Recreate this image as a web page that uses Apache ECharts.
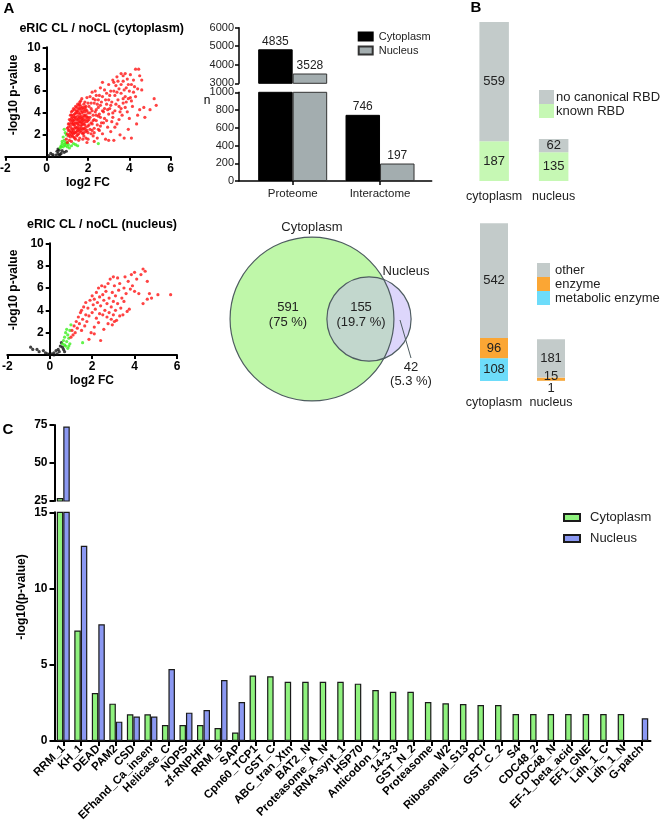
<!DOCTYPE html>
<html><head><meta charset="utf-8">
<script src="https://cdn.jsdelivr.net/npm/echarts@6/dist/echarts.min.js"></script>
<style>html,body{margin:0;padding:0;background:#fff}#c{width:662px;height:824px}</style>
</head><body><div id="c"></div>
<script>
// ---------------- DATA ----------------
// Panel A volcano plots: [log2 FC, -log10 p-value]
const cytoRed = [[0.95,1.6],[1.0,2.1],[1.0,2.6],[1.05,1.9],[1.05,3.0],[1.1,2.4],[1.1,3.4],[1.1,1.5],[1.15,2.8],[1.15,3.8],[1.2,2.0],[1.2,3.1],[1.2,4.1],[1.25,2.5],[1.25,3.6],[1.3,1.8],[1.3,2.9],[1.3,4.4],[1.3,3.3],[1.35,2.2],[1.35,3.9],[1.4,2.7],[1.4,4.6],[1.4,1.6],[1.45,3.4],[1.45,4.2],[1.5,2.0],[1.5,3.0],[1.5,4.8],[1.5,3.7],[1.55,2.5],[1.55,4.4],[1.6,1.7],[1.6,3.2],[1.6,5.0],[1.6,3.9],[1.65,2.8],[1.65,4.6],[1.7,2.2],[1.7,3.5],[1.7,5.3],[1.75,4.1],[1.75,3.0],[1.8,1.9],[1.8,4.8],[1.8,2.6],[1.85,3.7],[1.85,5.0],[1.9,2.3],[1.9,4.3],[1.95,3.2],[1.95,5.4],[2.0,1.6],[2.0,2.8],[2.0,4.0],[2.0,4.9],
[1.1,2.0],[1.2,2.6],[1.25,3.0],[1.3,2.4],[1.35,3.4],[1.4,3.1],[1.4,2.2],[1.45,2.6],[1.5,2.4],[1.5,4.2],[1.55,3.5],[1.6,2.3],[1.6,4.4],[1.65,3.7],[1.7,2.9],[1.7,4.0],[1.75,2.5],[1.8,3.4],[1.85,2.9],[1.9,3.8],[1.2,3.5],[1.3,3.8],[1.45,4.0],[1.55,2.9],[1.65,3.1],[1.05,2.4],[1.15,1.8],[1.35,1.7],[1.25,4.2],[1.6,4.8],
[1.0,1.3],[1.15,2.2],[1.2,1.4],[1.25,1.9],[1.35,2.6],[1.45,1.9],[1.55,1.5],[1.75,1.6],[1.45,4.5],[1.75,3.6],[1.85,4.5],[1.9,1.7],[1.35,4.3],[1.55,4.0],[1.65,4.2],
[1.05,2.7],[1.1,3.0],[1.15,3.3],[1.2,2.3],[1.2,3.8],[1.25,2.2],[1.25,3.3],[1.3,2.1],[1.3,3.1],[1.35,2.9],[1.35,3.6],[1.4,3.6],[1.4,4.0],[1.45,2.3],[1.45,3.1],[1.5,2.7],[1.5,3.4],[1.55,2.1],[1.55,3.2],[1.55,4.7],[1.6,2.6],[1.6,3.6],[1.65,2.4],[1.65,3.4],[1.65,5.1],[1.7,2.6],[1.7,3.2],[1.7,4.4],[1.75,2.1],[1.75,3.3],[1.75,4.5],[1.8,2.2],[1.8,3.0],[1.8,3.8],[1.8,4.3],[1.85,2.5],[1.85,3.2],[1.85,4.1],[1.9,2.7],[1.9,3.4],[1.9,4.6],[1.95,2.4],[1.95,3.6],[1.95,4.2],[2.0,2.2],[2.0,3.3],[2.0,3.6],
[2.05,2.9],[2.05,4.6],[2.1,3.6],[2.15,3.1],[2.15,4.9],[2.2,2.4],[2.2,4.2],[2.25,3.3],[2.25,5.3],[2.3,2.2],[2.35,4.1],[2.4,3.8],[2.45,4.8],[2.5,2.5],[2.55,5.6],[2.6,3.6],[2.7,4.2],[2.75,3.1],[2.85,5.2],[2.95,4.3],
[2.05,3.4],[2.1,5.5],[2.1,2.5],[2.15,4.4],[2.2,3.0],[2.2,5.9],[2.25,1.9],[2.25,3.8],[2.3,4.9],[2.3,2.6],[2.35,6.0],[2.4,3.3],[2.4,4.3],[2.45,1.7],[2.5,5.2],[2.5,3.7],[2.55,2.4],[2.6,4.7],[2.6,6.3],[2.65,3.1],[2.7,5.5],[2.7,2.1],[2.75,4.1],[2.8,6.1],[2.8,3.5],[2.85,1.6],[2.9,4.8],[2.9,5.8],[2.95,2.7],[3.0,6.6],[3.0,3.9],[3.0,5.2],[2.1,4.0],[2.3,3.4],[2.5,4.5],[2.6,2.8],[2.8,4.4],[2.4,5.6],[2.7,6.8],[2.15,2.1],[2.35,5.2],[2.55,3.9],[2.65,5.0],[2.9,3.3],[2.45,2.9],
[3.05,4.4],[3.1,2.3],[3.1,6.0],[3.15,5.0],[3.2,7.0],[3.2,3.6],[3.25,1.5],[3.3,5.6],[3.3,4.2],[3.35,6.5],[3.4,3.0],[3.4,7.3],[3.45,5.2],[3.5,4.6],[3.5,6.2],[3.55,2.0],[3.6,7.6],[3.6,5.8],[3.65,3.8],[3.7,6.9],[3.7,4.9],[3.75,1.7],[3.8,7.6],[3.8,5.5],[3.85,6.3],[3.9,4.1],[3.9,7.1],[3.95,2.5],[4.0,6.0],[3.3,2.7],[3.5,3.4],[3.7,5.3],[3.4,5.9],[3.6,6.6],[3.8,4.5],[3.95,5.3],[3.25,6.8],[3.15,3.2],[3.55,4.1],[3.75,6.1],
[3.05,5.6],[3.1,4.7],[3.2,4.0],[3.25,6.0],[3.35,4.8],[3.45,6.9],[3.6,4.4],[3.7,7.4],[3.85,5.0],[3.95,6.6],
[4.05,5.4],[4.1,1.7],[4.1,6.6],[4.15,4.6],[4.2,7.0],[4.3,8.0],[4.3,5.5],[4.35,3.0],[4.4,6.2],[4.45,8.0],[4.5,7.4],[4.5,4.3],[4.6,6.1],[4.7,4.5],[4.75,3.6],[5.0,4.3],[5.2,5.3],[5.3,4.7],[4.0,3.5],[4.2,5.9],[4.05,7.5],[4.4,3.8],[4.1,5.1],[4.25,6.4],[4.6,7.0],[1.95,1.3],[2.3,1.4],[3.0,1.5]];
const cytoGreen = [[0.85,2.5],[0.9,2.2],[0.8,1.8],[0.85,1.5],[0.75,1.2],[0.7,1.0],[0.65,0.8],[0.8,0.9],[0.9,1.0],[0.95,1.2],[1.0,0.9],[1.05,1.1],[1.1,0.8],[1.2,1.0],[1.3,1.2],[1.4,1.1],[0.75,1.4],[0.9,1.3],[1.0,1.3],[0.7,0.9],[2.5,1.2],[1.5,1.0],[0.95,2.0],[0.85,1.1]];
const cytoBlack = [[0.1,0.1],[0.2,0.3],[0.3,0.2],[0.5,0.5],[0.55,0.3],[0.6,0.6],[0.65,0.2],[0.55,0.7],[0.85,0.4],[0.6,0.1],[0.3,0.05],[0.7,0.3],[0.45,0.15],[0.95,0.5],[0.75,0.55]];
const nucRed = [[1.0,1.6],[1.05,2.2],[1.1,1.8],[1.15,2.6],[1.2,2.0],[1.25,3.0],[1.3,2.4],[1.35,3.4],[1.4,2.8],[1.45,3.8],[1.5,2.2],[1.5,4.0],[1.55,3.2],[1.6,4.3],[1.65,2.6],[1.7,3.6],[1.7,4.7],[1.75,3.0],[1.8,4.2],[1.85,3.5],[1.85,1.4],[1.9,4.9],[1.95,2.0],[2.0,5.3],[2.0,3.8],[2.05,4.5],[2.1,2.5],[2.1,5.0],[2.15,4.1],[2.2,5.6],[2.2,3.3],[2.25,4.7],[2.3,6.0],[2.3,2.9],[2.35,5.2],[2.4,4.4],[2.4,1.3],[2.45,6.2],[2.5,3.6],[2.5,5.4],[2.55,4.9],[2.6,6.1],[2.6,4.0],[2.65,5.7],[2.7,3.4],[2.7,4.6],[2.75,6.4],[2.8,5.1],[2.8,3.8],[2.85,6.8],[2.9,4.3],[2.9,3.2],[2.95,5.6],[3.0,7.0],[3.0,4.8],[3.0,3.6],[3.05,6.2],[3.1,4.0],[3.1,5.3],[3.15,3.1],[3.2,6.9],[3.2,4.6],[3.25,5.8],[3.3,3.5],[3.3,6.4],[3.35,4.2],[3.4,5.1],[3.45,3.6],[3.5,6.0],[3.5,4.8],[3.55,7.0],[3.6,5.5],[3.65,3.9],[3.7,6.6],[3.75,4.1],[3.8,5.9],[3.85,7.2],[3.9,6.2],[4.0,7.4],[4.0,5.7],[4.1,6.8],[4.2,5.5],[4.3,7.2],[4.4,7.7],[4.4,4.6],[4.5,7.5],[4.6,5.0],[4.6,6.6],[4.7,5.5],[4.8,5.1],[5.1,5.4],[5.7,5.4],[2.1,1.9],[2.35,3.7],[2.75,2.8],[3.05,3.0],[2.55,2.3],[2.95,2.7]];
const nucGreen = [[0.6,1.0],[0.65,1.3],[0.7,1.6],[0.7,0.9],[0.75,2.0],[0.8,1.2],[0.8,2.3],[0.85,1.8],[0.9,0.8],[0.9,1.5],[0.95,2.2],[0.95,1.0],[1.0,2.7],[0.85,0.6],[1.55,1.1],[0.75,0.8]];
const nucBlack = [[-0.9,0.7],[-0.8,0.5],[-0.6,0.5],[-0.5,0.3],[-0.3,0.4],[-0.2,0.2],[0.0,0.05],[0.1,0.1],[0.2,0.2],[0.3,0.4],[0.4,0.5],[0.5,0.8],[0.55,1.1],[0.6,0.7],[0.45,0.3],[0.65,0.5],[0.7,0.3],[0.35,0.1],[0.2,0.0],[-0.1,0.1]];

// Panel A counts
const countCategories = ['Proteome', 'Interactome'];
const countCytoplasm = [4835, 746];
const countNucleus = [3528, 197];

// Panel A Venn
const vennCytoOnly = 591;
const vennShared = 155;
const vennNucOnly = 42;

// Panel B
const rbdCategories = ['cytoplasm', 'nucleus'];
const knownRBD = [187, 135];
const noCanonicalRBD = [559, 62];
const enzCategories = ['cytoplasm', 'nucleus'];
const metabolicEnzyme = [108, 1];
const enzymeCounts = [96, 15];
const otherCounts = [542, 181];

// Panel C
const domainNames = ['RRM_1','KH_1','DEAD','PAM2','CSD','EFhand_Ca_insen','Helicase_C','NOPS','zf-RNPHF','RRM_5','SAP','Cpn60_TCP1','GST_C','ABC_tran_Xtn','BAT2_N','Proteasome_A_N','tRNA-synt_1','HSP70','Anticodon_1','14-3-3','GST_N_2','Proteasome','W2','Ribosomal_S13','PCI','GST_C_2','S4','CDC48_2','CDC48_N','EF-1_beta_acid','EF1_GNE','Ldh_1_C','Ldh_1_N','G-patch'];
const domainCytoplasm = [27,7.25,3.15,2.45,1.75,1.75,1.05,1.05,1.05,0.85,0.55,4.3,4.25,3.88,3.88,3.88,3.88,3.76,3.34,3.23,3.23,2.56,2.47,2.43,2.36,2.36,1.77,1.77,1.77,1.77,1.77,1.77,1.77,null];
const domainNucleus = [74,12.8,7.65,1.27,1.6,1.6,4.72,1.86,2.03,4.0,2.56,null,null,null,null,null,null,null,null,null,null,null,null,null,null,null,null,null,null,null,null,null,null,1.49];

// ---------------- STYLE / LAYOUT ----------------
const F = "'Liberation Sans', Arial, sans-serif";
const BLK = '#000';
const TXT = '#222';
const plain = v => String(v);

function volX(gi){
  return {gridIndex:gi, type:'value', min:-2, max:6, interval:2,
    axisLine:{show:true, onZero:true, lineStyle:{color:BLK, width:2}},
    axisTick:{show:true, length:4, lineStyle:{color:BLK, width:2}},
    axisLabel:{fontFamily:F, fontWeight:'bold', fontSize:12, color:BLK, margin:6, formatter:plain},
    splitLine:{show:false}};
}
function volY(gi, shift){
  return {gridIndex:gi, type:'value', min:0, max:10, interval:2, offset:-shift,
    axisLine:{show:true, onZero:false, lineStyle:{color:BLK, width:2}},
    axisTick:{show:true, length:4, lineStyle:{color:BLK, width:2}},
    axisLabel:{fontFamily:F, fontWeight:'bold', fontSize:12, color:BLK, margin:6,
      formatter: v => (v === 0 ? '' : String(v)), showMaxLabel:true},
    splitLine:{show:false}};
}
const grids = [
  {left:5.3, top:47.3, width:165.4, height:109.4},
  {left:7.3, top:243.3, width:169.7, height:111.7},
  {left:249, top:27.7, width:174.7, height:55.6},
  {left:249, top:92.3, width:174.7, height:88.7},
  {left:464.4, top:10.5, width:119, height:170.5},
  {left:465.5, top:211.9, width:114, height:169.1},
  {left:54.5, top:425, width:596, height:76},
  {left:54.5, top:512.3, width:596, height:228.7},
  {left:239.3, top:180, width:192.4, height:1}
].map(g => Object.assign({outerBoundsMode:'none', containLabel:false}, g));

const smallAxisLabel = {fontFamily:F, fontSize:11, color:TXT, margin:5, formatter:plain};
const boldAxisLabel = {fontFamily:F, fontSize:12, fontWeight:'bold', color:BLK, margin:7, formatter:plain};

const xAxis = [
  volX(0), volX(1),
  {gridIndex:2, type:'category', data:countCategories, show:false},
  {gridIndex:3, type:'category', data:countCategories, axisLine:{show:false},
    axisTick:{show:true, alignWithLabel:true, length:4, lineStyle:{color:BLK, width:1.5}},
    axisLabel:{fontFamily:F, fontSize:11.5, color:TXT, margin:7, interval:0}},
  {gridIndex:4, type:'category', data:rbdCategories, axisLine:{show:false}, axisTick:{show:false},
    axisLabel:{fontFamily:F, fontSize:12.5, color:TXT, margin:9, interval:0, hideOverlap:false}},
  {gridIndex:5, type:'category', data:enzCategories, axisLine:{show:false}, axisTick:{show:false},
    axisLabel:{fontFamily:F, fontSize:12.5, color:TXT, margin:15, interval:0, hideOverlap:false}},
  {gridIndex:6, type:'category', data:domainNames, show:false},
  {gridIndex:7, type:'category', data:domainNames,
    axisLine:{show:true, lineStyle:{color:BLK, width:2}},
    axisTick:{show:true, alignWithLabel:true, length:5, lineStyle:{color:BLK, width:2}},
    axisLabel:{fontFamily:F, fontSize:11.5, fontWeight:'bold', color:BLK, rotate:45, interval:0, margin:6}},
  {gridIndex:8, type:'value', min:0, max:1, axisLine:{show:true, onZero:false, lineStyle:{color:BLK, width:1.5}},
    axisTick:{show:false}, axisLabel:{show:false}, splitLine:{show:false}}
];
// y axes of the volcano plots sit at log2 FC = 0 (2 of the 8 x-units from the left edge)
const yAxis = [
  volY(0, grids[0].width*2/8), volY(1, grids[1].width*2/8),
  {gridIndex:2, type:'value', min:3000, max:6000, interval:1000, offset:10,
    axisLine:{show:true, lineStyle:{color:BLK, width:1.5}}, axisTick:{show:true, length:4, lineStyle:{color:BLK, width:1.5}},
    axisLabel:smallAxisLabel, splitLine:{show:false}},
  {gridIndex:3, type:'value', min:0, max:1000, interval:200, offset:10,
    axisLine:{show:true, lineStyle:{color:BLK, width:1.5}}, axisTick:{show:true, length:4, lineStyle:{color:BLK, width:1.5}},
    axisLabel:smallAxisLabel, splitLine:{show:false}},
  {gridIndex:4, type:'value', min:0, max:800, show:false, splitLine:{show:false}},
  {gridIndex:5, type:'value', min:0, max:800, show:false, splitLine:{show:false}},
  {gridIndex:6, type:'value', min:25, max:75, interval:25,
    axisLine:{show:true, lineStyle:{color:BLK, width:2}}, axisTick:{show:true, length:5, lineStyle:{color:BLK, width:2}},
    axisLabel:boldAxisLabel, splitLine:{show:false}},
  {gridIndex:7, type:'value', min:0, max:15, interval:5,
    axisLine:{show:true, lineStyle:{color:BLK, width:2}}, axisTick:{show:true, length:5, lineStyle:{color:BLK, width:2}},
    axisLabel:boldAxisLabel, splitLine:{show:false}},
  {gridIndex:8, type:'value', show:false, splitLine:{show:false}}
];

const series = [];
[[0, cytoBlack, '#111111'], [0, cytoGreen, '#3cf01e'], [0, cytoRed, '#ff1414'],
 [1, nucBlack, '#111111'], [1, nucGreen, '#3cf01e'], [1, nucRed, '#ff1414']].forEach(([gi, d, col]) => {
  series.push({type:'scatter', xAxisIndex:gi, yAxisIndex:gi, data:d, symbol:'circle', symbolSize:3.2,
    itemStyle:{color:col}, silent:true});
});

// Top counts bar chart (broken axis)
const cntLabel = {show:true, position:'top', distance:2, fontFamily:F, fontSize:12, color:TXT};
const cytoBarStyle = {color:'#000', borderColor:'#000', borderWidth:1};
const nucBarStyle = {color:'#a3adaf', borderColor:'#333', borderWidth:1};
series.push({name:'A_Cytoplasm', type:'bar', xAxisIndex:2, yAxisIndex:2, barWidth:34.5, barGap:'0%',
  data:countCytoplasm.map(v => v > 3000 ? v : '-'), itemStyle:cytoBarStyle, label:cntLabel});
series.push({name:'A_Nucleus', type:'bar', xAxisIndex:2, yAxisIndex:2, barWidth:34.5, barGap:'0%',
  data:countNucleus.map(v => v > 3000 ? v : '-'), itemStyle:nucBarStyle, label:cntLabel});
const lowLabel = Object.assign({}, cntLabel, {formatter: p => (p.value > 1000 ? '' : String(p.value))});
series.push({name:'A_Cytoplasm', type:'bar', xAxisIndex:3, yAxisIndex:3, barWidth:34.5, barGap:'0%',
  data:countCytoplasm, itemStyle:cytoBarStyle, label:lowLabel});
series.push({name:'A_Nucleus', type:'bar', xAxisIndex:3, yAxisIndex:3, barWidth:34.5, barGap:'0%',
  data:countNucleus, itemStyle:nucBarStyle, label:lowLabel});

// Panel B stacked bars
const inLabel = {show:true, position:'inside', fontFamily:F, fontSize:13, color:TXT};
series.push({name:'known RBD', type:'bar', xAxisIndex:4, yAxisIndex:4, stack:'rbd', barWidth:29.5,
  data:knownRBD, itemStyle:{color:'#c6f8b4'}, label:inLabel});
series.push({name:'no canonical RBD', type:'bar', xAxisIndex:4, yAxisIndex:4, stack:'rbd', barWidth:29.5,
  data:noCanonicalRBD, itemStyle:{color:'#c3cbca'}, label:inLabel});
series.push({name:'metabolic enzyme', type:'bar', xAxisIndex:5, yAxisIndex:5, stack:'enz', barWidth:28,
  data:metabolicEnzyme.map(v => v < 5 ? {value:v, label:{position:'bottom', distance:1}} : v),
  itemStyle:{color:'#6ddcfa'}, label:inLabel});
series.push({name:'enzyme', type:'bar', xAxisIndex:5, yAxisIndex:5, stack:'enz', barWidth:28,
  data:enzymeCounts.map(v => v < 30 ? {value:v, label:{offset:[0,-3]}} : v),
  itemStyle:{color:'#fba634'}, label:inLabel});
series.push({name:'other', type:'bar', xAxisIndex:5, yAxisIndex:5, stack:'enz', barWidth:28,
  data:otherCounts, itemStyle:{color:'#c3cbca'}, label:inLabel});

// Panel C (broken axis)
const cGreen = {color:'#8ff27e', borderColor:'#1a1a1a', borderWidth:1.2};
const cBlue = {color:'#8b98f2', borderColor:'#1a1a1a', borderWidth:1.2};
const nz = v => (v == null ? '-' : v);
series.push({name:'C_Cytoplasm', type:'bar', xAxisIndex:6, yAxisIndex:6, barWidth:6.5, barGap:'0%',
  data:domainCytoplasm.map(v => (v != null && v > 25) ? v : '-'), itemStyle:cGreen});
series.push({name:'C_Nucleus', type:'bar', xAxisIndex:6, yAxisIndex:6, barWidth:6.5, barGap:'0%',
  data:domainNucleus.map(v => (v != null && v > 25) ? v : '-'), itemStyle:cBlue});
series.push({name:'C_Cytoplasm', type:'bar', xAxisIndex:7, yAxisIndex:7, barWidth:6.5, barGap:'0%',
  data:domainCytoplasm.map(nz), itemStyle:cGreen});
series.push({name:'C_Nucleus', type:'bar', xAxisIndex:7, yAxisIndex:7, barWidth:6.5, barGap:'0%',
  data:domainNucleus.map(nz), itemStyle:cBlue});

// Venn diagram (areas proportional to set sizes)
const VCX = 312, VCY = 319, VK = 3.0, VD = 57;
series.push({type:'custom', coordinateSystem:'none', data:[[0]], silent:true,
  renderItem: function(params, api){
    const nC = vennCytoOnly + vennShared, nN = vennNucOnly + vennShared, tot = vennCytoOnly + vennShared + vennNucOnly;
    const r1 = VK*Math.sqrt(nC), r2 = VK*Math.sqrt(nN);
    const x1 = VCX, y = VCY, x2 = VCX + VD;
    const a = (VD*VD + r1*r1 - r2*r2)/(2*VD), h = Math.sqrt(r1*r1 - a*a);
    const px = x1 + a;
    const lens = 'M' + px + ' ' + (y-h) + ' A' + r2 + ' ' + r2 + ' 0 1 0 ' + px + ' ' + (y+h) +
                 ' A' + r1 + ' ' + r1 + ' 0 0 0 ' + px + ' ' + (y-h) + ' Z';
    const pct = n => (Math.round(n/tot*1000)/10).toString();
    const stroke = '#4e5c60';
    const t = (x, yy, s, sz) => ({type:'text', x:x, y:yy, style:{text:s, fill:TXT, font:(sz||13)+'px ' + F,
      textAlign:'center', textVerticalAlign:'middle', align:'center', verticalAlign:'middle'}});
    return {type:'group', children:[
      {type:'circle', shape:{cx:x1, cy:y, r:r1}, style:{fill:'#bff7a9'}},
      {type:'circle', shape:{cx:x2, cy:y, r:r2}, style:{fill:'#ddd6fb'}},
      {type:'path', shape:{pathData:lens}, style:{fill:'#c2d7cd'}},
      {type:'circle', shape:{cx:x1, cy:y, r:r1}, style:{fill:'none', stroke:stroke, lineWidth:1.2}},
      {type:'circle', shape:{cx:x2, cy:y, r:r2}, style:{fill:'none', stroke:stroke, lineWidth:1.2}},
      {type:'line', shape:{x1:x2+31, y1:y+1, x2:x2+42, y2:y+39}, style:{stroke:stroke, lineWidth:1}},
      t(x1, y - r1 - 10, 'Cytoplasm'),
      t(x2 + 37, y - 48, 'Nucleus'),
      t(x1 - 24, y - 12, String(vennCytoOnly)),
      t(x1 - 24, y + 3, '(' + pct(vennCytoOnly) + ' %)'),
      t(x2 - 8, y - 12, String(vennShared)),
      t(x2 - 8, y + 3, '(' + pct(vennShared) + ' %)'),
      t(x2 + 42, y + 48, String(vennNucOnly)),
      t(x2 + 42, y + 62, '(' + pct(vennNucOnly) + ' %)')
    ]};
  }
});

const strip = n => n.replace(/^[AC]_/, '');
const legend = [
  {data:['A_Cytoplasm','A_Nucleus'], left:357.7, top:31, orient:'vertical', padding:0, itemWidth:14, itemHeight:8, itemGap:3,
    icon:'rect', selectedMode:false, formatter:strip, textStyle:{fontFamily:F, fontSize:11, color:TXT, padding:[0,0,0,1]}},
  {data:['no canonical RBD','known RBD'], left:539, top:90, orient:'vertical', padding:0, itemWidth:15, itemHeight:14, itemGap:0,
    icon:'rect', selectedMode:false, textStyle:{fontFamily:F, fontSize:13, color:TXT, lineHeight:14, padding:[0,0,0,-3]}},
  {data:['other','enzyme','metabolic enzyme'], left:537, top:263, orient:'vertical', padding:0, itemWidth:13, itemHeight:14, itemGap:0,
    icon:'rect', selectedMode:false, textStyle:{fontFamily:F, fontSize:13, color:TXT, lineHeight:14}},
  {data:['C_Cytoplasm','C_Nucleus'], left:563, top:511, orient:'vertical', padding:0, itemWidth:16, itemHeight:7, itemGap:8,
    icon:'rect', selectedMode:false, formatter:strip, textStyle:{fontFamily:F, fontSize:13, color:TXT, padding:[0,0,0,5]}}
];

function gtext(x, y, s, font, rot){
  return {type:'text', x:x, y:y, rotation:rot || 0, silent:true,
    style:{text:s, fill:BLK, font:font, textAlign:'center', textVerticalAlign:'middle', align:'center', verticalAlign:'middle'}};
}
const graphic = [
  gtext(9, 9, 'A', "bold 15px " + F),
  gtext(476, 8, 'B', "bold 15px " + F),
  gtext(8, 430, 'C', "bold 15px " + F),
  gtext(101.7, 29, 'eRIC CL / noCL (cytoplasm)', "bold 12.5px " + F),
  gtext(102, 225, 'eRIC CL / noCL (nucleus)', "bold 12.5px " + F),
  gtext(14, 95, '-log10 p-value', "bold 12px " + F, Math.PI/2),
  gtext(14, 290, '-log10 p-value', "bold 12px " + F, Math.PI/2),
  gtext(88, 183, 'log2 FC', "bold 12px " + F),
  gtext(92, 381, 'log2 FC', "bold 12px " + F),
  gtext(207, 101, 'n', "12px " + F),
  gtext(22, 597, '-log10(p-value)', "bold 12px " + F, Math.PI/2)
];

const chart = echarts.init(document.getElementById('c'), null, {renderer:'canvas', width:662, height:824});
chart.setOption({
  animation:false,
  backgroundColor:'#fff',
  textStyle:{fontFamily:F},
  grid:grids, xAxis:xAxis, yAxis:yAxis, series:series, legend:legend, graphic:graphic
});
</script></body></html>
